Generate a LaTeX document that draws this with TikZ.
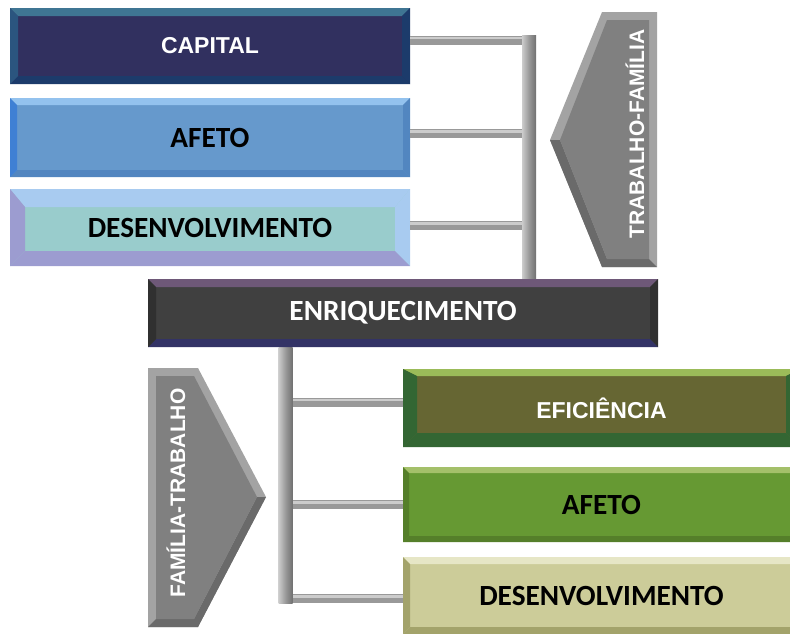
\documentclass[tikz,border=0pt]{standalone}
\usepackage{fontspec}
\usepackage{tikz}
\newfontfamily\arialfont{Liberation Sans}
\newfontfamily\calfont{Carlito}
\definecolor{capfill}{HTML}{31305F}
\definecolor{captop}{HTML}{3F7593}
\definecolor{capside}{HTML}{2B557F}
\definecolor{capbot}{HTML}{1C3B6B}
\definecolor{affill}{HTML}{6699CC}
\definecolor{aftop}{HTML}{93C2EE}
\definecolor{afside}{HTML}{3F80D4}
\definecolor{afbot}{HTML}{5286C0}
\definecolor{desfill}{HTML}{99CCCC}
\definecolor{destop}{HTML}{A8CBF0}
\definecolor{desbot}{HTML}{9C9CD0}
\definecolor{enrfill}{HTML}{404040}
\definecolor{enrtop}{HTML}{6E5878}
\definecolor{enrside}{HTML}{303030}
\definecolor{enrbot}{HTML}{333366}
\definecolor{effill}{HTML}{666633}
\definecolor{eftop}{HTML}{9BBB59}
\definecolor{efbot}{HTML}{336633}
\definecolor{af2fill}{HTML}{669933}
\definecolor{af2top}{HTML}{A4C06A}
\definecolor{af2bot}{HTML}{557F2A}
\definecolor{de2fill}{HTML}{CCCC99}
\definecolor{de2top}{HTML}{E6E6C6}
\definecolor{de2bot}{HTML}{A3A36B}
\definecolor{chevmid}{HTML}{808080}
\definecolor{chevlight}{HTML}{A3A3A3}
\definecolor{chevdark}{HTML}{6A6A6A}
\definecolor{barmid}{HTML}{999999}
\definecolor{barlight}{HTML}{CCCCCC}
\definecolor{bardark}{HTML}{707070}

\tikzset{
  % top width, side width, top, right, bottom, left
  bevel/.style n args={6}{path picture={
    \coordinate (nw) at (path picture bounding box.north west);
    \coordinate (ne) at (path picture bounding box.north east);
    \coordinate (sw) at (path picture bounding box.south west);
    \coordinate (se) at (path picture bounding box.south east);
    \fill[#3] (nw) -- (ne) -- ([shift={(-#2pt,-#1pt)}]ne) -- ([shift={(#2pt,-#1pt)}]nw) -- cycle;
    \fill[#4] (ne) -- (se) -- ([shift={(-#2pt,#2pt)}]se) -- ([shift={(-#2pt,-#1pt)}]ne) -- cycle;
    \fill[#5] (se) -- (sw) -- ([shift={(#2pt,#2pt)}]sw) -- ([shift={(-#2pt,#2pt)}]se) -- cycle;
    \fill[#6] (sw) -- (nw) -- ([shift={(#2pt,-#1pt)}]nw) -- ([shift={(#2pt,#2pt)}]sw) -- cycle;
  }},
  box/.style={rectangle, inner sep=0pt, minimum width=400pt},
  calib/.style={font=\calfont\bfseries\fontsize{29.3}{31}\selectfont},
  arial/.style={font=\arialfont\bfseries\fontsize{23}{25}\selectfont},
  chevtext/.style={font=\arialfont\bfseries\fontsize{21}{23}\selectfont, text=white, rotate=90, inner sep=0pt},
  vbar/.style={rectangle, inner sep=0pt, minimum width=14pt,
    left color=barlight, right color=bardark, middle color=barmid},
  hbar/.style={line width=9pt, draw=barmid},
  hbarhi/.style={line width=2.5pt, draw=barlight},
}

\begin{document}
\begin{tikzpicture}[x=1pt, y=-1pt]
  \clip (0,0) rectangle (790,633);

  %% rails
  \node[vbar, minimum height=243pt] (tfbar) at (529,156.5) {};
  \node[vbar, minimum height=256pt] (ftbar) at (285.5,475) {};

  %% work -> family boxes
  \node[box, minimum height=76pt, fill=capfill, text=white, arial,
        bevel={8}{8}{captop}{capbot}{capbot}{capside}] (capital) at (210,46) {CAPITAL};
  \node[box, minimum height=79pt, fill=affill, calib,
        bevel={7}{7}{aftop}{afbot}{afbot}{afside}] (afeto) at (210,137.5) {AFETO};
  \node[box, minimum height=77pt, fill=desfill, calib,
        bevel={18}{15}{destop}{destop}{desbot}{desbot}] (desenv) at (210,227.5) {DESENVOLVIMENTO};

  \foreach \b/\dy in {capital/6, afeto/4, desenv/2} {
    \draw[hbar] ([yshift=\dy pt]\b.east) -- ([yshift=\dy pt]\b.east -| tfbar.west);
    \draw[hbarhi] ([yshift=\dy pt+2pt]\b.east) -- ([yshift=\dy pt+2pt]\b.east -| tfbar.west);
  }

  %% centre box
  \node[box, minimum width=510pt, minimum height=68pt, fill=enrfill, text=white, calib,
        bevel={8}{8}{enrtop}{enrside}{enrbot}{enrside}] (enriq) at (403,313) {ENRIQUECIMENTO};

  %% family -> work boxes
  \node[box, minimum width=397pt, minimum height=78pt, fill=effill, text=white, arial,
        bevel={7}{14}{eftop}{efbot}{efbot}{efbot}] (efic) at (601.5,408) {EFICIÊNCIA};
  \node[box, minimum width=397pt, minimum height=75pt, fill=af2fill, calib,
        bevel={6}{6}{af2top}{af2bot}{af2bot}{af2bot}] (afeto2) at (601.5,504.5) {AFETO};
  \node[box, minimum width=397pt, minimum height=77pt, fill=de2fill, calib,
        bevel={7}{7}{de2top}{de2bot}{de2bot}{de2bot}] (desenv2) at (601.5,595.5) {DESENVOLVIMENTO};

  \foreach \b/\dy in {efic/6, afeto2/0, desenv2/-3} {
    \draw[hbar] ([yshift=\dy pt]\b.west) -- ([yshift=\dy pt]\b.west -| ftbar.east);
    \draw[hbarhi] ([yshift=\dy pt+2pt]\b.west) -- ([yshift=\dy pt+2pt]\b.west -| ftbar.east);
  }

  %% chevron TRABALHO-FAMILIA
  \fill[chevlight] (550,140) -- (602,12) -- (657,12) -- (657,267) -- (602,267) -- cycle;
  \fill[chevdark] (550,140) -- (602,267) -- (657,267) -- (649,259) -- (607,259) -- (560,140) -- cycle;
  \fill[chevmid] (560,140) -- (607,20) -- (649,20) -- (649,259) -- (607,259) -- cycle;
  \node[chevtext] (tflabel) at (635,134) {TRABALHO-FAMÍLIA};

  %% chevron FAMILIA-TRABALHO
  \fill[chevlight] (148,368) -- (198,368) -- (266,497) -- (198,627) -- (148,627) -- cycle;
  \fill[chevdark] (266,497) -- (198,627) -- (148,627) -- (156,619) -- (194,619) -- (257,497) -- cycle;
  \fill[chevmid] (156,376) -- (194,376) -- (257,497) -- (194,619) -- (156,619) -- cycle;
  \node[chevtext] (ftlabel) at (176,493) {FAMÍLIA-TRABALHO};
\end{tikzpicture}
\end{document}
